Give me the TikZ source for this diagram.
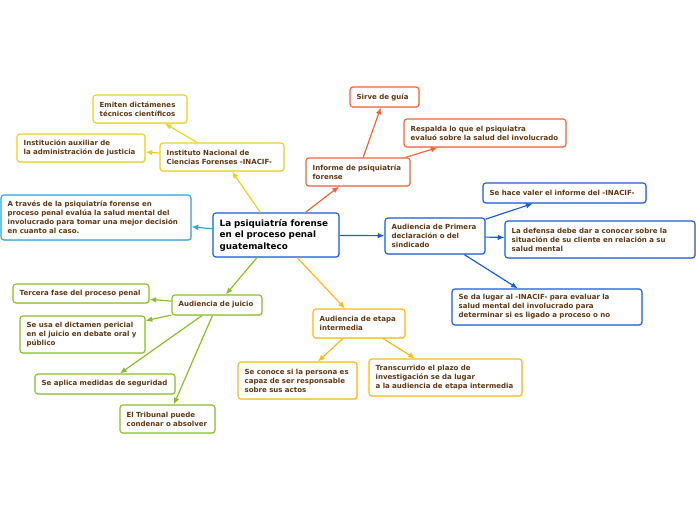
\documentclass[tikz,border=0pt]{standalone}
\usepackage{fontspec}
\setmainfont{DejaVu Sans}
\usepackage{tikz}
\usetikzlibrary{arrows.meta, shadows}

\definecolor{txtbrown}{RGB}{96,56,19}
\definecolor{cyellow}{RGB}{232,210,35}
\definecolor{clblue}{RGB}{40,162,225}
\definecolor{cred}{RGB}{242,98,55}
\definecolor{cblue}{RGB}{25,92,215}
\definecolor{cgreen}{RGB}{138,190,38}
\definecolor{camber}{RGB}{250,186,20}

\begin{document}
\begin{tikzpicture}[
    x=0.03cm, y=-0.03cm,
    box/.style={
        rectangle, rounded corners=2.5pt, draw, line width=1pt, fill=white,
        inner xsep=0.2cm, inner ysep=2pt, align=left, text=txtbrown,
        font=\fontsize{6}{7.7}\selectfont\bfseries,
        drop shadow={opacity=0.18, shadow xshift=0.6pt, shadow yshift=-0.8pt}
    },
    link/.style={line width=1pt, -{Latex[length=2mm, width=1.7mm]}},
]
\useasboundingbox (0,0) rectangle (696,520);

% central topic
\node[box, draw=cblue, text width=3.38cm, minimum height=1.32cm,
      font=\fontsize{7.5}{9.8}\selectfont\bfseries, text=black] (main) at (276,235)
    {La psiquiatría forense\\en el proceso penal\\guatemalteco};

% INACIF branch (yellow)
\node[box, draw=cyellow, text width=3.32cm, minimum height=0.84cm] (inacif) at (222,157)
    {Instituto Nacional de\\Ciencias Forenses -INACIF-};
\node[box, draw=cyellow, text width=2.42cm, minimum height=0.84cm] (emiten) at (140,109)
    {Emiten dictámenes\\técnicos científicos};
\node[box, draw=cyellow, text width=3.44cm, minimum height=0.84cm] (auxil) at (81,148)
    {Institución auxiliar de\\la administración de justicia};

% summary (light blue)
\node[box, draw=clblue, text width=5.3cm, minimum height=1.35cm] (atraves) at (96,217.5)
    {A través de la psiquiatría forense en\\proceso penal evalúa la salud mental del\\involucrado para tomar una mejor decisión\\en cuanto al caso.};

% Informe branch (red)
\node[box, draw=cred, text width=2.72cm, minimum height=0.84cm] (informe) at (358,172)
    {Informe de psiquiatría\\forense};
\node[box, draw=cred, text width=1.67cm, minimum height=0.6cm] (guia) at (384.5,97)
    {Sirve de guía};
\node[box, draw=cred, text width=4.46cm, minimum height=0.84cm] (respalda) at (485,133)
    {Respalda lo que el psiquiatra\\evaluó sobre la salud del involucrado};

% Primera declaracion branch (blue)
\node[box, draw=cblue, text width=2.6cm, minimum height=1.08cm] (primera) at (435,236)
    {Audiencia de Primera\\declaración o del\\sindicado};
\node[box, draw=cblue, text width=4.49cm, minimum height=0.6cm] (valer) at (564.5,193)
    {Se hace valer el informe del -INACIF-};
\node[box, draw=cblue, text width=5.3cm, minimum height=1.11cm] (defensa) at (600,239.5)
    {La defensa debe dar a conocer sobre la\\situación de su cliente en relación a su\\salud mental};
\node[box, draw=cblue, text width=5.3cm, minimum height=1.08cm] (lugar) at (547,307)
    {Se da lugar al -INACIF- para evaluar la\\salud mental del involucrado para\\determinar si es ligado a proceso o no};

% Juicio branch (green)
\node[box, draw=cgreen, text width=2.3cm, minimum height=0.6cm] (juicio) at (217,305)
    {Audiencia de juicio};
\node[box, draw=cgreen, text width=3.68cm, minimum height=0.57cm] (tercera) at (81,293.5)
    {Tercera fase del proceso penal};
\node[box, draw=cgreen, text width=3.35cm, minimum height=1.11cm] (dictamen) at (82.5,334.5)
    {Se usa el dictamen pericial\\en el juicio en debate oral y\\público};
\node[box, draw=cgreen, text width=3.8cm, minimum height=0.6cm] (medidas) at (105,384)
    {Se aplica medidas de seguridad};
\node[box, draw=cgreen, text width=2.45cm, minimum height=0.84cm] (tribunal) at (167.5,419)
    {El Tribunal puede\\condenar o absolver};

% Etapa intermedia branch (amber)
\node[box, draw=camber, text width=2.36cm, minimum height=0.87cm] (etapa) at (359,323.5)
    {Audiencia de etapa\\intermedia};
\node[box, draw=camber, text width=3.17cm, minimum height=1.11cm] (conoce) at (297.5,380.5)
    {Se conoce si la persona es\\capaz de ser responsable\\sobre sus actos};
\node[box, draw=camber, text width=4.19cm, minimum height=1.11cm] (plazo) at (445.5,377.5)
    {Transcurrido el plazo de\\investigación se da lugar\\a la audiencia de etapa intermedia};

% connectors
\draw[link, cyellow] (main) -- (inacif);
\draw[link, cyellow] (inacif) -- (emiten);
\draw[link, cyellow] (inacif) -- (auxil);
\draw[link, clblue] (main) -- (atraves);
\draw[link, cred] (main) -- (informe);
\draw[link, cred] (informe) -- (guia);
\draw[link, cred] (informe) -- (respalda);
\draw[link, cblue] (main) -- (primera);
\draw[link, cblue] (primera) -- (valer);
\draw[link, cblue] (primera) -- (defensa);
\draw[link, cblue] (primera) -- (lugar);
\draw[link, cgreen] (main) -- (juicio);
\draw[link, cgreen] (juicio) -- (tercera);
\draw[link, cgreen] (juicio) -- (dictamen);
\draw[link, cgreen] (juicio) -- (medidas);
\draw[link, cgreen] (juicio) -- (tribunal);
\draw[link, camber] (main) -- (etapa);
\draw[link, camber] (etapa) -- (conoce);
\draw[link, camber] (etapa) -- (plazo);

\end{tikzpicture}
\end{document}
